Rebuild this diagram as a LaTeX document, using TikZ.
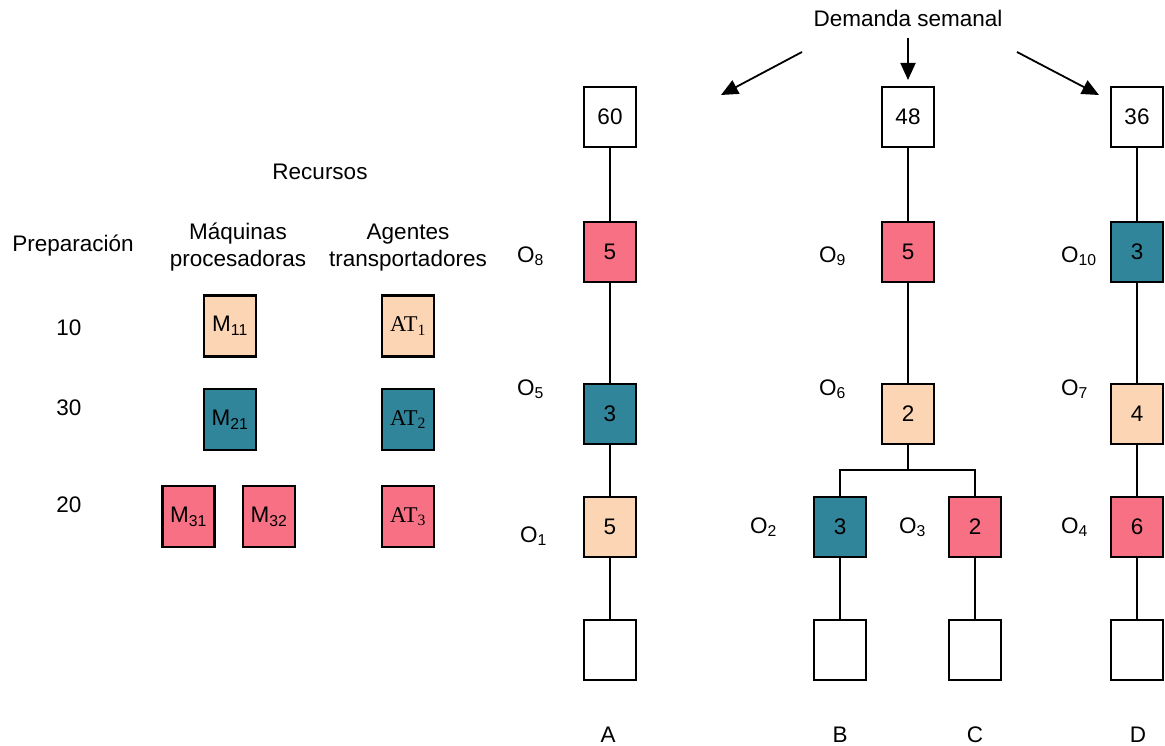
\documentclass[tikz,border=0pt]{standalone}
\usepackage{fontspec}
\setmainfont{Liberation Sans}
\newfontfamily\seriffont{Liberation Serif}
\usetikzlibrary{arrows.meta}
\definecolor{peach}{RGB}{252,213,180}
\definecolor{tealc}{RGB}{49,133,155}
\definecolor{pinkc}{RGB}{248,112,132}
\begin{document}
\begin{tikzpicture}[x=1pt,y=-1pt,font=\fontsize{22.5}{26}\selectfont,
  box/.style={draw=black,line width=2.2pt,minimum width=52pt,minimum height=60pt,inner sep=0pt},
  rbox/.style={box,minimum height=61pt},
  conn/.style={line width=1.8pt},
  arr/.style={line width=1.8pt,-{Triangle[length=17pt,width=15pt]}},
  txt/.style={inner sep=0pt,anchor=base},
  olbl/.style={inner sep=0pt,anchor=base west}]
\useasboundingbox (0,0) rectangle (1165,746);

% ---- left panel ----
\node[txt] (rec) at (320,180) {Recursos};
\node[txt] (prep) at (73,252) {Preparación};
\node[txt] (maq1) at (238,240) {Máquinas};
\node[txt] (maq2) at (238,266) {procesadoras};
\node[txt] (ag1) at (408,240) {Agentes};
\node[txt] (ag2) at (408,266) {transportadores};
\node[txt] (p10) at (69,335) {10};
\node[txt] (p30) at (69,415) {30};
\node[txt] (p20) at (69,512) {20};

\node[rbox,fill=peach] (m11) at (230,326) {M\textsubscript{11}};
\node[rbox,fill=tealc] (m21) at (230,419.5) {M\textsubscript{21}};
\node[rbox,fill=pinkc] (m31) at (188.5,516.5) {M\textsubscript{31}};
\node[rbox,fill=pinkc] (m32) at (269,516.5) {M\textsubscript{32}};
\node[rbox,fill=peach] (at1) at (408,326) {\seriffont AT\textsubscript{1}};
\node[rbox,fill=tealc] (at2) at (408,419.5) {\seriffont AT\textsubscript{2}};
\node[rbox,fill=pinkc] (at3) at (408,516.5) {\seriffont AT\textsubscript{3}};

% ---- demand ----
\node[txt] (dem) at (908,27) {Demanda semanal};
\coordinate (dl) at (802,52); \coordinate (dlt) at (721,95);
\coordinate (dm) at (908,38); \coordinate (dmt) at (908,80);
\coordinate (dr) at (1017,52); \coordinate (drt) at (1099,95);
\draw[arr] (dl) -- (dlt);
\draw[arr] (dm) -- (dmt);
\draw[arr] (dr) -- (drt);

% ---- column A ----
\node[box,fill=white] (a0) at (610,117) {60};
\node[box,fill=pinkc] (o8) at (610,252) {5};
\node[box,fill=tealc] (o5) at (610,414) {3};
\node[box,fill=peach] (o1) at (610,527) {5};
\node[box,fill=white] (af) at (610,650) {};
% ---- column B/C ----
\node[box,fill=white] (b0) at (908,117) {48};
\node[box,fill=pinkc] (o9) at (908,252) {5};
\node[box,fill=peach] (o6) at (908,414) {2};
\node[box,fill=tealc] (o2) at (840,527) {3};
\node[box,fill=pinkc] (o3) at (975,527) {2};
\node[box,fill=white] (bf) at (840,650) {};
\node[box,fill=white] (cf) at (975,650) {};
\coordinate (j) at (908,470);
% ---- column D ----
\node[box,fill=white] (d0) at (1137,117) {36};
\node[box,fill=tealc] (o10) at (1137,252) {3};
\node[box,fill=peach] (o7) at (1137,414) {4};
\node[box,fill=pinkc] (o4) at (1137,527) {6};
\node[box,fill=white] (df) at (1137,650) {};

% connectors
\draw[conn] (a0) -- (o8) -- (o5) -- (o1) -- (af);
\draw[conn] (b0) -- (o9) -- (o6);
\draw[conn] (o6.south) -- (j);
\draw[conn] (o2.north) |- (j) -| (o3.north);
\draw[conn] (o2) -- (bf);
\draw[conn] (o3) -- (cf);
\draw[conn] (d0) -- (o10) -- (o7) -- (o4) -- (df);

% operation labels
\node[olbl] (l8) at (517,262) {O\textsubscript{8}};
\node[olbl] (l5) at (517,395) {O\textsubscript{5}};
\node[olbl] (l1) at (520,542) {O\textsubscript{1}};
\node[olbl] (l9) at (819,262) {O\textsubscript{9}};
\node[olbl] (l6) at (819,395) {O\textsubscript{6}};
\node[olbl] (l2) at (750,533) {O\textsubscript{2}};
\node[olbl] (l3) at (899,533) {O\textsubscript{3}};
\node[olbl] (l10) at (1061,262) {O\textsubscript{10}};
\node[olbl] (l7) at (1061,395) {O\textsubscript{7}};
\node[olbl] (l4) at (1061,533) {O\textsubscript{4}};

% product letters
\node[txt] (pa) at (608,742) {A};
\node[txt] (pb) at (840,742) {B};
\node[txt] (pc) at (975,742) {C};
\node[txt] (pd) at (1138,742) {D};
\end{tikzpicture}
\end{document}
